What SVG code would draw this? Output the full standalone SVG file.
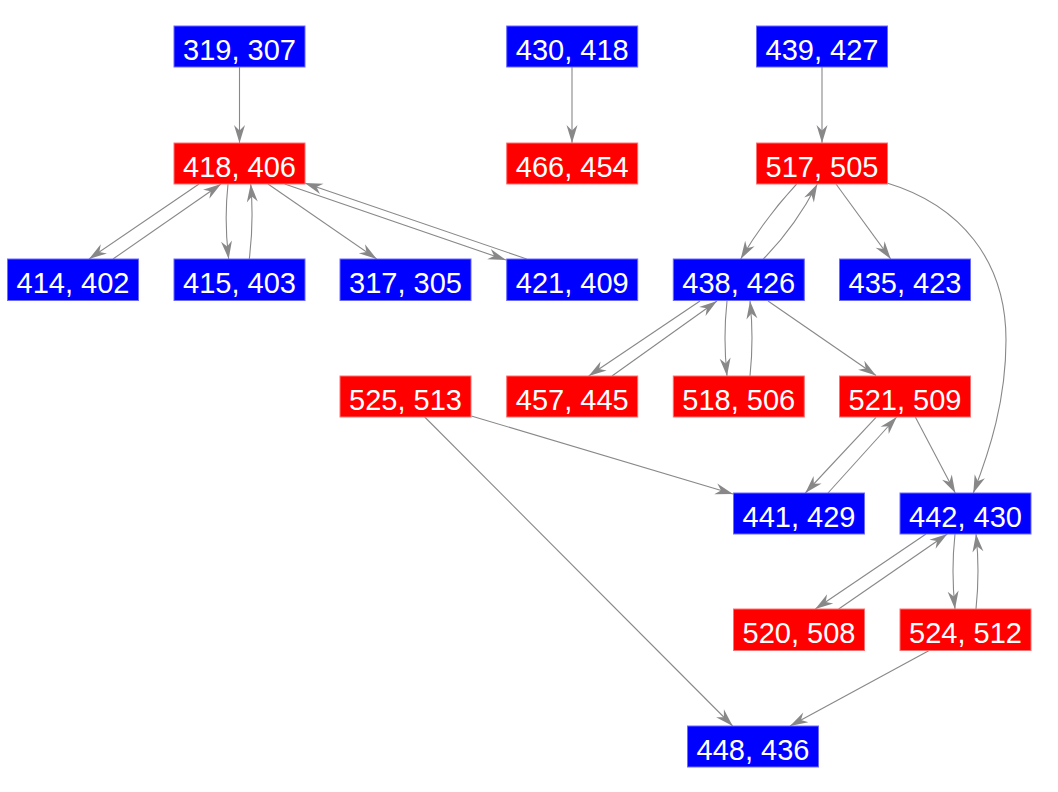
<svg xmlns="http://www.w3.org/2000/svg" width="1058" height="792" viewBox="0 0 1058 792">
<style>
.b{fill:#0000ff;stroke:#6a6aff;stroke-width:1}
.r{fill:#ff0000;stroke:#ff7070;stroke-width:1}
text{font-family:"Liberation Sans",Arial,sans-serif;font-size:29px;fill:#ffffff;text-anchor:middle}
.e path{fill:none;stroke:#888888;stroke-width:1.1;marker-end:url(#ah)}
</style>
<defs>
<marker id="ah" markerUnits="userSpaceOnUse" markerWidth="22" markerHeight="16" viewBox="-19 -8 20 16" refX="0" refY="0" orient="auto">
<path d="M0,0 L-18,-5.5 L-12.5,0 L-18,5.5 Z" fill="#888888"/>
</marker>
</defs>
<rect width="1058" height="792" fill="#ffffff"/>
<g id="connectors" class="e">
<path d="M239.5,67 L239.5,143"/>
<path d="M572,67 L572,143"/>
<path d="M822,67 L822,143"/>
<path d="M199,184 L89,259"/>
<path d="M113,259 L221,184"/>
<path d="M228,184 Q224,221 228.7,259"/>
<path d="M249.3,259 Q254,221 250.7,184"/>
<path d="M268,184 L376.7,259"/>
<path d="M284.7,184 L506,260"/>
<path d="M526.7,259 L304.7,183"/>
<path d="M796.7,184 Q765,218 740.7,259"/>
<path d="M763.3,259 Q795,227 817.3,184"/>
<path d="M836,184 L890.7,259"/>
<path d="M887,183 C960,205 1006,260 1006,340 C1006,400 990,450 973.3,493"/>
<path d="M700,301 L588.7,376"/>
<path d="M612,376 L717,301"/>
<path d="M727,301 Q723,338 727,376"/>
<path d="M750,376 Q754,338 750,301"/>
<path d="M768,301 L876,375.5"/>
<path d="M471.3,416 L733,494"/>
<path d="M424.7,417 L732.7,726"/>
<path d="M876,417.3 L805.3,493"/>
<path d="M828,493 L896.7,417"/>
<path d="M915.3,417 L955.3,493"/>
<path d="M926,534 L815.3,609"/>
<path d="M838.7,609 L947.3,534"/>
<path d="M955,534 Q951,571 955,609"/>
<path d="M976,609 Q980,571 976,534"/>
<path d="M928.7,650.7 L790,726"/>
</g>
<g id="n319_307"><rect class="b" x="174" y="26" width="131" height="41"/><text x="239.5" y="59.5">319, 307</text></g>
<g id="n430_418"><rect class="b" x="506.7" y="26" width="131" height="41"/><text x="572.2" y="59.5">430, 418</text></g>
<g id="n439_427"><rect class="b" x="756.5" y="26" width="131" height="41"/><text x="822" y="59.5">439, 427</text></g>
<g id="n418_406"><rect class="r" x="174" y="143" width="131" height="41"/><text x="239.5" y="176.5">418, 406</text></g>
<g id="n466_454"><rect class="r" x="506.7" y="143" width="131" height="41"/><text x="572.2" y="176.5">466, 454</text></g>
<g id="n517_505"><rect class="r" x="756.5" y="143" width="131" height="41"/><text x="822" y="176.5">517, 505</text></g>
<g id="n414_402"><rect class="b" x="7.5" y="259" width="131" height="41.5"/><text x="73" y="292.5">414, 402</text></g>
<g id="n415_403"><rect class="b" x="174" y="259" width="131" height="41.5"/><text x="239.5" y="292.5">415, 403</text></g>
<g id="n317_305"><rect class="b" x="340" y="259" width="131" height="41.5"/><text x="405.5" y="292.5">317, 305</text></g>
<g id="n421_409"><rect class="b" x="506.7" y="259" width="131" height="41.5"/><text x="572.2" y="292.5">421, 409</text></g>
<g id="n438_426"><rect class="b" x="673.3" y="259" width="131" height="41.5"/><text x="738.8" y="292.5">438, 426</text></g>
<g id="n435_423"><rect class="b" x="839.5" y="259" width="131" height="41.5"/><text x="905" y="292.5">435, 423</text></g>
<g id="n525_513"><rect class="r" x="340" y="376" width="131" height="41"/><text x="405.5" y="409.5">525, 513</text></g>
<g id="n457_445"><rect class="r" x="506.7" y="376" width="131" height="41"/><text x="572.2" y="409.5">457, 445</text></g>
<g id="n518_506"><rect class="r" x="673.3" y="376" width="131" height="41"/><text x="738.8" y="409.5">518, 506</text></g>
<g id="n521_509"><rect class="r" x="839.5" y="376" width="131" height="41"/><text x="905" y="409.5">521, 509</text></g>
<g id="n441_429"><rect class="b" x="733.5" y="493" width="131" height="41"/><text x="799" y="526.5">441, 429</text></g>
<g id="n442_430"><rect class="b" x="900" y="493" width="131" height="41"/><text x="965.5" y="526.5">442, 430</text></g>
<g id="n520_508"><rect class="r" x="733.5" y="609" width="131" height="41.5"/><text x="799" y="642.5">520, 508</text></g>
<g id="n524_512"><rect class="r" x="900" y="609" width="131" height="41.5"/><text x="965.5" y="642.5">524, 512</text></g>
<g id="n448_436"><rect class="b" x="687.5" y="726" width="131" height="41"/><text x="753" y="759.5">448, 436</text></g>
</svg>
